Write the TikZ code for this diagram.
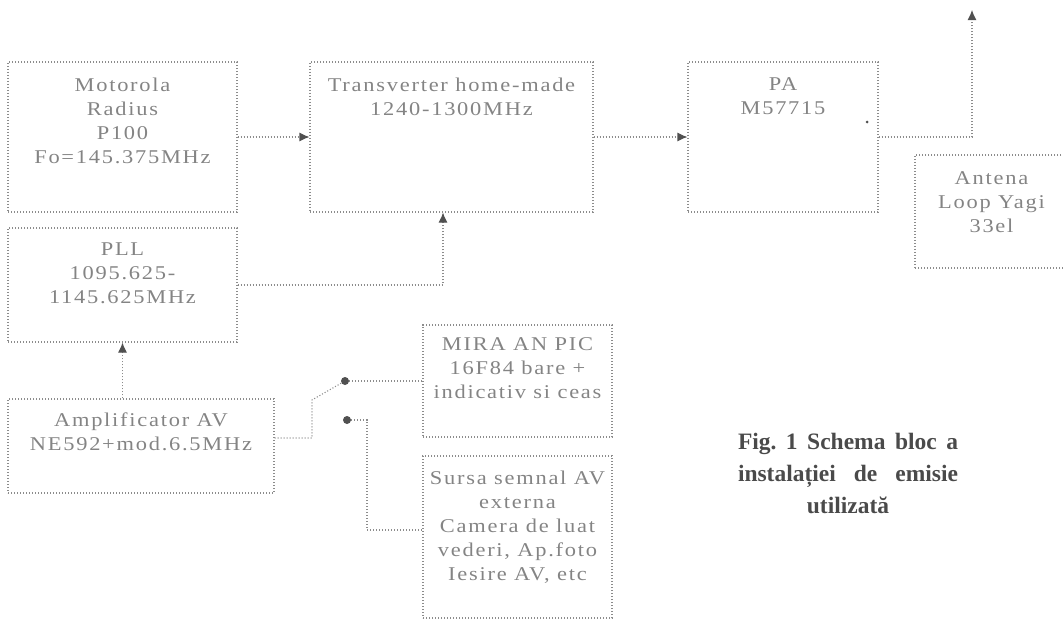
\documentclass[tikz,border=0pt]{standalone}
\usepackage{fontspec}
\setmainfont{Liberation Serif}
\newfontfamily\boxfont{Liberation Serif}[FakeStretch=1.15, LetterSpace=9]
\usetikzlibrary{arrows.meta, positioning, calc}
\definecolor{inkgray}{HTML}{848484}
\definecolor{wiregray}{HTML}{8C8C8C}
\definecolor{tipgray}{HTML}{505050}
\definecolor{capgray}{HTML}{4A4A4A}

\begin{document}
\begin{tikzpicture}[x=1pt, y=-1pt,
    blok/.style 2 args={draw=wiregray, line width=1.1pt, dash pattern=on 1.1pt off 1.9pt,
        minimum width=#1pt, minimum height=#2pt, inner sep=0pt},
    txt/.style={font=\boxfont\fontsize{19.5}{24}\selectfont, text=inkgray, align=center, inner sep=0pt},
    wire/.style={draw=wiregray, line width=1.1pt, dash pattern=on 1.1pt off 1.9pt},
    tip/.style={-{Latex[length=10pt, width=9pt, color=tipgray]}},
    contact/.style={circle, fill=tipgray, inner sep=0pt, minimum size=8pt}]
    \path[use as bounding box, clip] (0,0) rectangle (1063,621);

    % blocks
    \node[blok={229}{150}] (moto) at (122.5,137) {};
    \node[blok={283}{150}] (trans) at (451.5,137) {};
    \node[blok={190}{150}] (pa) at (783,137) {};
    \node[blok={153}{113}] (ant) at (991.5,211.5) {};
    \node[blok={229}{114}] (pll) at (122.5,285) {};
    \node[blok={266}{94}] (amp) at (141,446) {};
    \node[blok={189}{112}] (mira) at (517.5,381) {};
    \node[blok={189}{162}] (sursa) at (517.5,537) {};

    % block texts
    \node[txt, below=16pt of moto.north] (moto-t) {Motorola\\Radius\\P100\\Fo=145.375MHz};
    \node[txt, below=16pt of trans.north] (trans-t) {Transverter home-made\\1240-1300MHz};
    \node[txt, below=16pt of pa.north] (pa-t) {PA\\M57715};
    \node[txt, below=17pt of ant.north] (ant-t) {Antena\\Loop Yagi\\33el};
    \node[txt, below=15pt of pll.north] (pll-t) {PLL\\1095.625-\\1145.625MHz};
    \node[txt, below=14pt of amp.north] (amp-t) {Amplificator AV\\NE592+mod.6.5MHz};
    \node[txt, below=13pt of mira.north] (mira-t) {MIRA AN PIC\\16F84 bare +\\indicativ si ceas};
    \node[txt, below=15pt of sursa.north] (sursa-t) {Sursa semnal AV\\externa\\Camera de luat\\vederi, Ap.foto\\Iesire AV, etc};
    \node[circle, fill=tipgray, inner sep=0pt, minimum size=3pt] (pa-dot) at (867,122) {};

    % signal path
    \coordinate (up) at (972,10);
    \draw[wire, tip] (moto.east) -- (trans.west);
    \draw[wire, tip] (trans.east) -- (pa.west);
    \draw[wire, tip] (pa.east) -| (up);
    \draw[wire, tip] (pll.east) -| ([xshift=-8.5pt]trans.south);
    \draw[wire, tip] (amp.north -| pll.south) -- (pll.south);

    % switch
    \node[contact] (sw1) at (345,381) {};
    \node[contact] (sw2) at (347,420) {};
    \draw[wire] ([yshift=8pt]amp.east) -| (312,400) -- (sw1);
    \draw[wire] (sw1) -- (sw1 -| mira.west);
    \draw[wire] (sw2) -| (367,530) -- (sursa.west |- 367,530);

    % caption
    \node[font=\bfseries\fontsize{23.5}{32}\selectfont, text=capgray, align=center] (fig) at (848,473)
        {\frenchspacing\makebox[220pt][s]{Fig.\ 1 Schema bloc a}\\\makebox[220pt][s]{instalației de emisie}\\utilizată};
\end{tikzpicture}
\end{document}
